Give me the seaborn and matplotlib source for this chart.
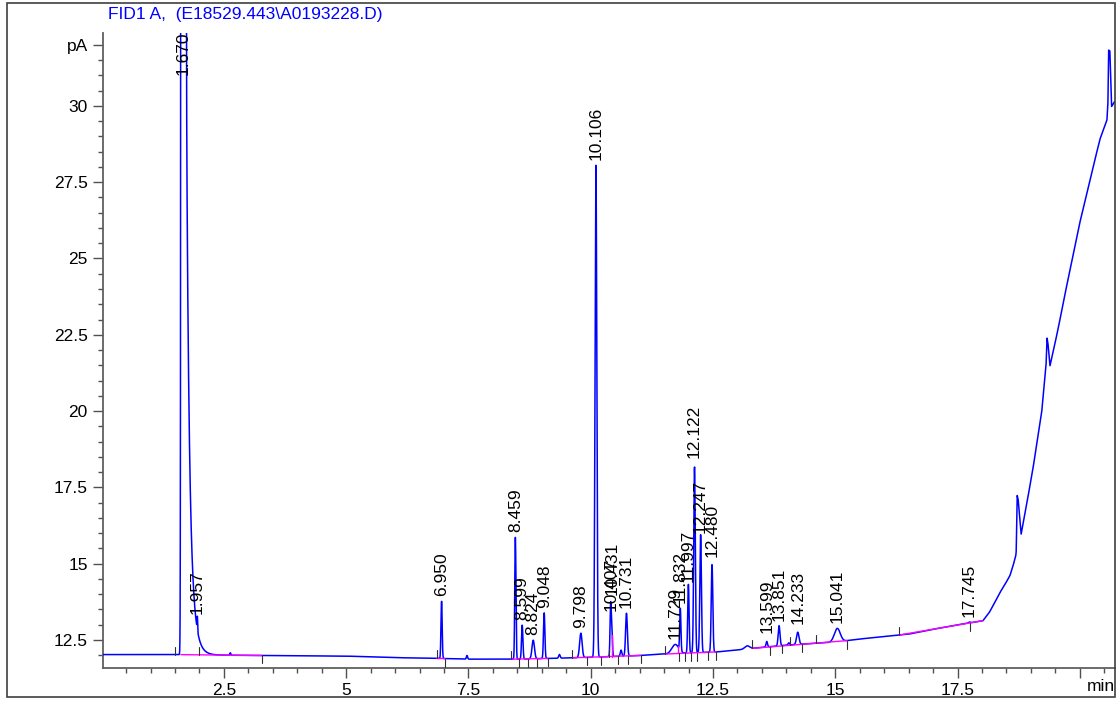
import numpy as np
import pandas as pd
import matplotlib
matplotlib.use("Agg")
import matplotlib.pyplot as plt
import seaborn as sns
from matplotlib.patches import Rectangle

# ---------------- data ----------------
title = "FID1 A,  (E18529.443\\A0193228.D)"

# detector baseline / drift knots (min, pA)
base_t = [0.027, 1.50, 2.50, 4.00, 5.00, 6.00, 7.00, 7.50, 8.50, 9.30, 10.00, 10.50,
          11.00, 11.40, 12.60, 13.00, 13.40, 14.00, 15.00, 15.50, 16.00, 16.50, 17.00,
          17.50, 18.02, 18.15, 18.27, 18.37, 18.47, 18.57, 18.63, 18.69, 18.70, 18.72,
          18.74, 18.80, 18.92, 19.04, 19.22, 19.31, 19.33, 19.35, 19.39, 19.47, 19.56,
          19.68, 19.80, 20.00, 20.21, 20.41, 20.555, 20.575, 20.59, 20.615, 20.65,
          20.71, 20.74]
base_v = [12.02, 12.02, 12.00, 11.98, 11.97, 11.92, 11.89, 11.87, 11.87, 11.90, 11.93, 11.96,
          11.99, 12.03, 12.11, 12.17, 12.24, 12.33, 12.43, 12.53, 12.61, 12.69, 12.85,
          12.99, 13.13, 13.40, 13.75, 14.06, 14.32, 14.60, 14.90, 15.25, 15.40, 17.24,
          17.10, 15.96, 17.00, 18.09, 19.95, 21.50, 22.40, 22.20, 21.48, 22.05, 22.72,
          23.70, 24.63, 26.17, 27.58, 28.90, 29.54, 30.10, 31.83, 31.80, 29.98,
          30.14, 30.14]

# labelled peaks
peak_rt = [1.670, 1.957, 6.950, 8.459, 8.599, 8.824, 9.048, 9.798, 10.106, 10.407,
           10.431, 10.731, 11.729, 11.832, 11.997, 12.122, 12.247, 12.480, 13.599,
           13.851, 14.233, 15.041, 17.745]
peak_height = [7600.0, 0.45, 1.88, 3.99, 1.11, 0.61, 1.50, 0.80, 16.14, 1.66,
               0.87, 1.40, 0.30, 1.38, 2.25, 6.10, 3.86, 2.87, 0.18,
               0.66, 0.40, 0.44, 0.03]
peak_sigma = [0.016, 0.006, 0.012, 0.012, 0.014, 0.025, 0.014, 0.025, 0.018, 0.012,
              0.012, 0.018, 0.070, 0.012, 0.014, 0.016, 0.016, 0.016, 0.015,
              0.018, 0.025, 0.060, 0.020]
peak_label = ["1.670", "1.957", "6.950", "8.459", "8.599", "8.824", "9.048", "9.798",
              "10.106", "10.407", "10.431", "10.731", "11.729", "11.832", "11.997",
              "12.122", "12.247", "12.480", "13.599", "13.851", "14.233", "15.041",
              "17.745"]

# small unlabelled bumps
bump_rt = [2.63, 7.47, 9.36, 10.62, 13.20, 14.05]
bump_height = [0.08, 0.12, 0.12, 0.20, 0.10, 0.07]
bump_sigma = [0.010, 0.012, 0.015, 0.015, 0.050, 0.015]

# solvent peak tailing
tail_start = 1.70
tail_amp = [20.0, 13.0]
tail_tau = [0.045, 0.09]

# integration baselines (magenta) and drop lines
seg_start = [1.62, 6.85, 8.37, 9.62, 11.52, 13.29, 16.30]
seg_end = [3.27, 7.02, 9.13, 11.02, 12.57, 15.24, 18.02]
drop_t = [10.44, 11.78]

# integration event marks (time, +1 above / -1 below)
event_t = [1.50, 1.99, 3.27, 6.85, 7.02, 8.37, 8.53, 8.71, 8.91, 9.13, 9.62, 9.92,
           10.22, 10.37, 10.56, 10.77, 11.02, 11.52, 11.80, 11.93, 12.06, 12.18,
           12.39, 12.57, 13.29, 13.66, 13.92, 14.07, 14.33, 14.60, 15.24, 16.30, 17.75]
event_dir = [1, 1, -1, 1, -1, 1, -1, -1, -1, -1, 1, -1,
             -1, 1, -1, -1, -1, 1, -1, -1, -1, -1,
             -1, -1, 1, -1, -1, 1, -1, 1, -1, 1, -1]

x_major = [2.5, 5, 7.5, 10, 12.5, 15, 17.5, 20]
x_major_labels = ["2.5", "5", "7.5", "10", "12.5", "15", "17.5", ""]
y_major = [12.5, 15, 17.5, 20, 22.5, 25, 27.5, 30, 32]
y_major_labels = ["12.5", "15", "17.5", "20", "22.5", "25", "27.5", "30", "pA"]

# ---------------- build trace ----------------
t = np.arange(0.027, 20.74, 0.002)
base = np.interp(t, base_t, base_v)
sig = base.copy()
for rt, h, s in zip(peak_rt + bump_rt, peak_height + bump_height, peak_sigma + bump_sigma):
    sig += h * np.exp(-0.5 * ((t - rt) / s) ** 2)
mask = t >= tail_start
for a, tau in zip(tail_amp, tail_tau):
    sig[mask] += a * np.exp(-(t[mask] - tail_start) / tau)
df = pd.DataFrame({"time": t, "signal": sig})

# ---------------- figure ----------------
sns.set_theme(style="ticks")
plt.rcParams["font.family"] = ["Liberation Sans", "DejaVu Sans"]
W, H = 1120, 701
fig = plt.figure(figsize=(W / 100, H / 100), dpi=100)
fig.patch.set_facecolor("white")
ax = fig.add_axes([103 / W, 33 / H, (1115 - 103) / W, (668 - 33) / H])
ax.set_facecolor("white")

xlim = (0.027, 20.72)
ylim = (11.58, 32.39)
ax.set_xlim(*xlim)
ax.set_ylim(*ylim)

sns.lineplot(data=df, x="time", y="signal", ax=ax, color="#0000ff", linewidth=1.1,
             estimator=None, sort=False, zorder=3)

# integration baselines
for s0, s1 in zip(seg_start, seg_end):
    ax.plot([s0, s1], [np.interp(s0, t, base), np.interp(s1, t, base)],
            color="#ff00ff", lw=1.0, zorder=4)
for dt in drop_t:
    ax.plot([dt, dt], [np.interp(dt, t, base), np.interp(dt, t, sig)],
            color="#ff00ff", lw=1.0, zorder=4)

# event marks
px_per_unit = (668 - 33) / (ylim[1] - ylim[0])
mark = 8 / px_per_unit
for et, d in zip(event_t, event_dir):
    y0 = np.interp(et, t, base)
    ax.plot([et, et], [y0, y0 + d * mark], color="#303030", lw=0.8, zorder=5)

# peak labels
offsets_px = {"10.407": -9, "10.431": 28, "12.122": 9, "11.997": 2, "12.247": 2,
              "13.599": 8, "14.233": 8, "12.480": 8, "1.957": 2}
for rt, lab in zip(peak_rt, peak_label):
    yv = np.interp(rt, t, sig)
    if yv > ylim[1]:
        ax.annotate(lab, xy=(rt, ylim[1]), xytext=(0, 1), textcoords="offset points",
                    rotation=90, ha="center", va="top", fontsize=12.5, color="black",
                    zorder=6)
    else:
        off = offsets_px.get(lab, 5) * 0.72
        ax.annotate(lab, xy=(rt, yv), xytext=(0, off), textcoords="offset points",
                    rotation=90, ha="center", va="bottom", fontsize=12.5, color="black",
                    zorder=6)

# axes styling
for side in ["top", "right"]:
    ax.spines[side].set_visible(False)
for side in ["left", "bottom"]:
    ax.spines[side].set_color("#606060")
    ax.spines[side].set_linewidth(1.3)

ax.set_xticks(x_major)
ax.set_xticklabels(x_major_labels)
ax.set_xticks(np.arange(0.5, 20.6, 0.5), minor=True)
ax.set_yticks(y_major)
ax.set_yticklabels(y_major_labels)
ax.set_yticks(np.arange(12.0, 32.01, 0.5), minor=True)
ax.tick_params(axis="both", which="major", length=7, width=1.0, color="#505050",
               labelsize=12.5, labelcolor="black", direction="out", pad=4)
ax.tick_params(axis="both", which="minor", length=3.8, width=1.0, color="#505050",
               direction="out")
ax.set_xlabel("")
ax.set_ylabel("")

ax.text(1.0, -0.018, "min", transform=ax.transAxes, ha="right", va="top",
        fontsize=12.5, color="black")

fig.text(108 / W, 1 - 14 / H, title, ha="left", va="center", fontsize=12.5,
         color="#0000ff")

fig.add_artist(Rectangle((7 / W, 4 / H), (1115 - 7) / W, (698 - 4) / H,
                         transform=fig.transFigure, fill=False,
                         edgecolor="#404040", linewidth=1.2))

fig.savefig("out.png", dpi=100, facecolor="white")
